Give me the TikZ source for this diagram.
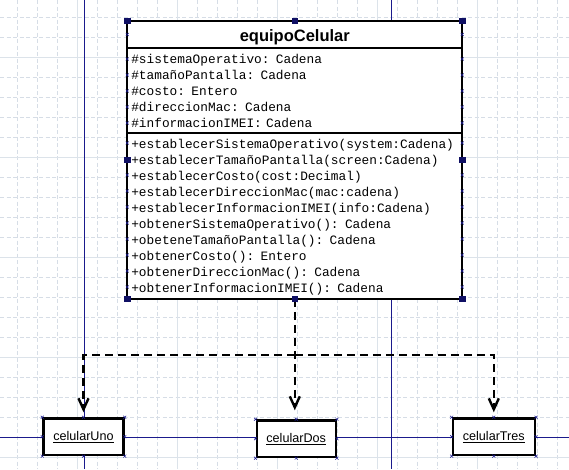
\documentclass[tikz,border=0pt]{standalone}
\usepackage{fontspec}
\setmainfont{Liberation Sans}
\newfontfamily\monofont{Liberation Mono}
\usepackage{tikz}
\usetikzlibrary{positioning,arrows.meta,calc}
\definecolor{gridgray}{RGB}{214,221,230}
\definecolor{gridmain}{RGB}{220,227,234}
\definecolor{guideblue}{RGB}{26,26,140}
\definecolor{handleblue}{RGB}{16,16,100}
\tikzset
{
    gridminor/.style  = {draw=gridgray, line width=0.6pt, dash pattern=on 4pt off 2.5pt},
    gridmajor/.style  = {draw=gridmain, line width=0.8pt},
    guide/.style      = {draw=guideblue, line width=1pt},
    classtitle/.style = {draw=black, line width=2pt, fill=white, outer sep=0pt, minimum width=335pt, minimum height=27pt, text height=14.4pt, text depth=0pt, font=\bfseries\fontsize{16.5}{18}\selectfont},
    classpart/.style  = {draw=black, line width=2pt, fill=white, outer sep=0pt, text width=327pt, inner xsep=4pt, align=left, font=\monofont\fontsize{12.8}{16}\selectfont},
    objbox/.style     = {draw=black, line width=2.4pt, fill=white, minimum width=80pt, minimum height=36.5pt, font=\fontsize{12.6}{14}\selectfont},
    depend/.style     = {->, line width=2.4pt, dash pattern=on 8pt off 5pt, shorten >=5pt},
    xmark/.style      = {draw=guideblue, line width=0.5pt}
}

\begin{document}
\begin{tikzpicture}[x=1pt, y=-1pt, >={Straight Barb[length=11pt,width=10pt]}]
    \useasboundingbox (0,0) rectangle (569,469);
    \fill[white] (0,0) rectangle (569,469);
    \foreach \gx in {17.5,37.5,...,557.5}
        \draw[gridminor] (\gx,0) -- (\gx,469);
    \foreach \gy in {17,37,...,457}
        \draw[gridminor] (0,\gy) -- (569,\gy);
    \foreach \gx in {77.5,177.5,...,477.5}
        \draw[gridmajor] (\gx,0) -- (\gx,469);
    \foreach \gy in {57,157,...,457}
        \draw[gridmajor] (0,\gy) -- (569,\gy);
    \draw[guide] (84,0) -- (84,469);
    \draw[guide] (391.7,0) -- (391.7,469);
    \draw[guide] (0,437.7) -- (569,437.7);

    \node [classtitle] (equipoTitle) at (294.8,34.5) {equipoCelular};
    \node [classpart, minimum height=85pt, below=0pt of equipoTitle] (equipoAttr)
    {
        \#sistemaOperativo: Cadena \\
        \#tamañoPantalla: Cadena \\
        \#costo: Entero \\
        \#direccionMac: Cadena \\
        \#informacionIMEI: Cadena
    };
    \node [classpart, minimum height=163pt, below=0pt of equipoAttr] (equipoOps)
    {
        \rule{0pt}{12.6pt}+establecerSistemaOperativo(system:Cadena) \\
        +establecerTamañoPantalla(screen:Cadena) \\
        +establecerCosto(cost:Decimal) \\
        +establecerDireccionMac(mac:cadena) \\
        +establecerInformacionIMEI(info:Cadena) \\
        +obtenerSistemaOperativo(): Cadena \\
        +obeteneTamañoPantalla(): Cadena \\
        +obtenerCosto(): Entero \\
        +obtenerDireccionMac(): Cadena \\
        +obtenerInformacionIMEI(): Cadena
    };

    \node [objbox] (celularUno) at (83.5,436.7) {\underline{celularUno}};
    \node [objbox, minimum width=79pt] (celularDos) at (296.2,438.7) {\underline{celularDos}};
    \node [objbox, minimum width=82pt] (celularTres) at (493.8,436.7) {\underline{celularTres}};

    \coordinate (split) at ($(equipoOps.south)+(0,56)$);
    \draw[depend, shorten >=9pt] (equipoOps.south) -- (equipoOps.south |- celularDos.north);
    \draw[depend] (split) -| (celularUno.north);
    \draw[depend] (split) -| (celularTres.north);

    \coordinate (midWest) at ($(equipoTitle.north west)!0.5!(equipoOps.south west)$);
    \coordinate (midEast) at ($(equipoTitle.north east)!0.5!(equipoOps.south east)$);
    \foreach \h in {equipoTitle.north west, equipoTitle.north, equipoTitle.north east, midWest, midEast, equipoOps.south west, equipoOps.south, equipoOps.south east}
        \fill[handleblue] (\h) +(-3.2,-3.2) rectangle +(3.2,3.2);
    \foreach \y in {34.5,59,75,91,107,123,143,175,191,207,223,239,255,271,287}
    {
        \draw[xmark] (equipoTitle.west |- 0,\y) +(-1.5,-1.5) -- +(1.5,1.5) +(-1.5,1.5) -- +(1.5,-1.5);
        \draw[xmark] (equipoTitle.east |- 0,\y) +(-1.5,-1.5) -- +(1.5,1.5) +(-1.5,1.5) -- +(1.5,-1.5);
    }
    \foreach \n in {celularUno, celularDos, celularTres}
        \foreach \a in {north west, north, north east, east, south east, south, south west, west}
            \draw[xmark] (\n.\a) +(-1.5,-1.5) -- +(1.5,1.5) +(-1.5,1.5) -- +(1.5,-1.5);
\end{tikzpicture}
\end{document}
